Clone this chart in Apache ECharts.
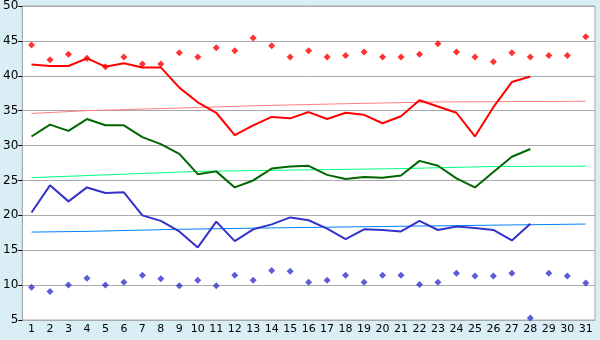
<!DOCTYPE html>
<html>
<head>
<meta charset="utf-8">
<script src="https://cdn.jsdelivr.net/npm/echarts@6/dist/echarts.min.js"></script>
<style>
html, body { margin: 0; padding: 0; background: #daeef5; }
#chart { width: 600px; height: 340px; }
</style>
</head>
<body>
<div id="chart"></div>
<script>
// days of the month
var days = [];
for (var d = 1; d <= 31; d++) days.push(String(d));

// red markers (highs)
var highMarks = [44.4, 42.3, 43.1, 42.5, 41.3, 42.7, 41.7, 41.7, 43.3, 42.7,
                 44.0, 43.6, 45.4, 44.3, 42.7, 43.6, 42.7, 42.9, 43.4, 42.7,
                 42.7, 43.1, 44.6, 43.4, 42.7, 42.0, 43.3, 42.7, 42.9, 42.9, 45.6];
// red line
var highLine = [41.6, 41.4, 41.4, 42.5, 41.3, 41.8, 41.2, 41.2, 38.3, 36.2,
                34.7, 31.5, 32.9, 34.1, 33.9, 34.8, 33.8, 34.7, 34.4, 33.2,
                34.2, 36.5, 35.6, 34.7, 31.3, 35.5, 39.1, 39.9];
// green line
var midLine = [31.3, 33.0, 32.1, 33.8, 32.9, 32.9, 31.2, 30.2, 28.8, 25.9,
               26.3, 24.0, 25.0, 26.7, 27.0, 27.1, 25.8, 25.2, 25.5, 25.4,
               25.7, 27.8, 27.1, 25.3, 24.0, 26.2, 28.4, 29.5];
// blue line
var lowLine = [20.4, 24.3, 22.0, 24.0, 23.2, 23.3, 20.0, 19.2, 17.7, 15.4,
               19.1, 16.3, 18.0, 18.7, 19.7, 19.3, 18.1, 16.6, 18.0, 17.9,
               17.7, 19.2, 17.9, 18.4, 18.2, 17.9, 16.4, 18.8];
// blue markers (lows)
var lowMarks = [9.7, 9.1, 10.0, 11.0, 10.0, 10.4, 11.4, 10.9, 9.9, 10.7,
                9.9, 11.4, 10.7, 12.1, 12.0, 10.4, 10.7, 11.4, 10.4, 11.4,
                11.4, 10.1, 10.4, 11.7, 11.3, 11.3, 11.7, 5.3, 11.7, 11.3, 10.3];
// trend lines: [day index, value]
var highTrend = [[0, 34.6], [3, 35.0], [7, 35.3], [12, 35.7], [17, 36.0], [22, 36.25], [30, 36.35]];
var midTrend = [[0, 25.4], [3, 25.7], [9, 26.3], [20, 26.7], [25, 27.0], [30, 27.05]];
var lowTrend = [[0, 17.6], [3, 17.7], [8, 18.0], [13, 18.2], [19, 18.4], [30, 18.75]];

var font = 'DejaVu Sans';

function lineSeries(data, color, width) {
    return {
        type: 'line', data: data, symbol: 'none', silent: true,
        lineStyle: { color: color, width: width }, z: 3
    };
}
function markSeries(data, color) {
    return {
        type: 'scatter', data: data, symbol: 'diamond', symbolSize: [7, 7], silent: true,
        itemStyle: { color: color }, z: 4
    };
}

var chart = echarts.init(document.getElementById('chart'));
chart.setOption({
    animation: false,
    backgroundColor: '#daeef5',
    grid: {
        left: 21, right: 5, top: 5, bottom: 20,
        show: true, backgroundColor: '#ffffff', borderColor: '#aaaaaa', borderWidth: 1
    },
    xAxis: {
        type: 'category', data: days, boundaryGap: true,
        axisLine: { lineStyle: { color: '#aaaaaa' } },
        axisTick: { alignWithLabel: true, length: 5, lineStyle: { color: '#000' } },
        axisLabel: { color: '#000', fontFamily: font, fontSize: 11, margin: 4, interval: 0 },
        splitLine: { show: false }
    },
    yAxis: {
        type: 'value', min: 5, max: 50, interval: 5,
        axisLine: { show: true, lineStyle: { color: '#aaaaaa' } },
        axisTick: { show: true, length: 4, lineStyle: { color: '#000' } },
        axisLabel: { color: '#000', fontFamily: font, fontSize: 12, margin: 4 },
        splitLine: { lineStyle: { color: '#aaaaaa', width: 1 } }
    },
    series: [
        lineSeries(highTrend, '#ff7f7f', 1),
        lineSeries(midTrend, '#00ff80', 1),
        lineSeries(lowTrend, '#0080ff', 1),
        lineSeries(highLine, '#ff0000', 2),
        lineSeries(midLine, '#006600', 2),
        lineSeries(lowLine, '#3333cc', 2),
        markSeries(highMarks, '#ff0000'),
        markSeries(lowMarks, '#3333cc')
    ]
});
</script>
</body>
</html>
